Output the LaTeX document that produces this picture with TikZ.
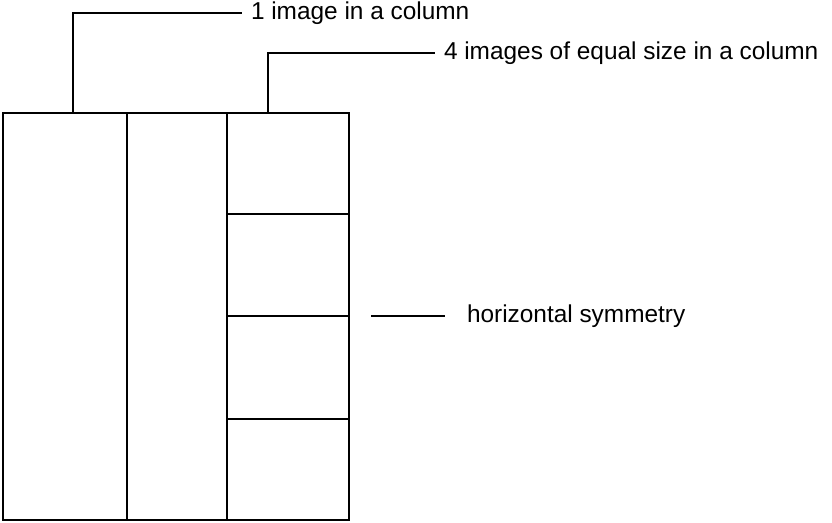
\documentclass[tikz,border=0pt]{standalone}
\usepackage{fontspec}
\setmainfont{Liberation Sans}
\usetikzlibrary{positioning,calc}

\begin{document}
\begin{tikzpicture}[
 x=0.5pt, y=-0.5pt, line width=1pt,
 note/.style={anchor=west,inner xsep=4pt,inner ysep=0pt,font=\fontsize{12.2}{14}\selectfont},
 frame/.style={draw,line width=1.1pt}
]
\useasboundingbox (0,0) rectangle (832,523);
% page frame with three columns
\coordinate (tl) at (3,113);
\coordinate (br) at (349,520);
\draw[frame] (tl) rectangle (br);
\draw[frame] (127,113) -- (127,520);
\draw[frame] (227,113) -- (227,520);
\foreach \y in {214,316,419}
 \draw[frame] (227,\y) -- (349,\y);
% labels
\coordinate (lead1) at (73,113);
\coordinate (lead2) at (268,113);
\node[note] (single) at (242,13) {1 image in a column};
\node[note] (four) at (435,53) {4 images of equal size in a column};
\draw (lead1) |- (single.west);
\draw (lead2) |- (four.west);
\coordinate (symL) at (371,316);
\coordinate (symR) at (445,316);
\node[note,right=10.5pt of symR,inner xsep=0pt] (sym) {horizontal symmetry};
\draw (symL) -- (symR);
\end{tikzpicture}
\end{document}
